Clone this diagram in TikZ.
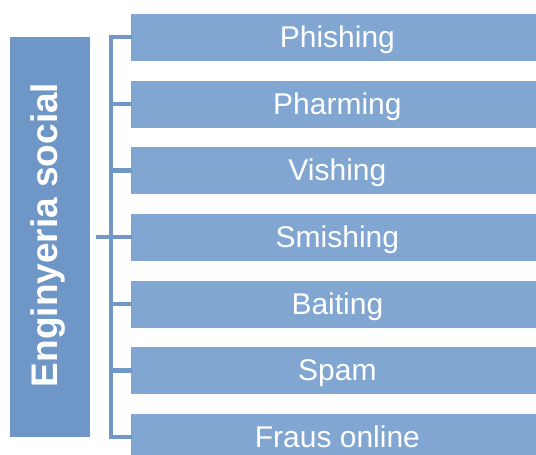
\documentclass[tikz,border=0pt]{standalone}
\usepackage{fontspec}
\setmainfont{Liberation Sans}
\definecolor{leftblue}{HTML}{6E97C7}
\definecolor{itemblue}{HTML}{80A6D1}
\definecolor{linkblue}{HTML}{7097C6}
\begin{document}
\begin{tikzpicture}[x=1pt,y=-1pt,
  itembox/.style={fill=itemblue,draw=white,line width=0.8pt,minimum width=414pt,minimum height=48pt,inner sep=0pt,text height=26pt,text depth=6pt,anchor=west,text=white,font=\fontsize{30}{30}\selectfont},
  topic/.style={fill=leftblue,minimum width=80pt,minimum height=400pt,inner sep=0pt},
  link/.style={draw=linkblue,line width=4.5pt}]
\useasboundingbox (0,0) rectangle (536,455);
\node[topic] (main) at (50,237) {};
\node[rotate=90,text=white,font=\fontsize{37}{37}\bfseries\selectfont] (title) at (48,235) {Enginyeria social};
\node[itembox] (i1) at (130,37) {Phishing};
\node[itembox] (i2) at (130,104) {Pharming};
\node[itembox] (i3) at (130,170.5) {Vishing};
\node[itembox] (i4) at (130,237) {Smishing};
\node[itembox] (i5) at (130,304) {Baiting};
\node[itembox] (i6) at (130,370.5) {Spam};
\node[itembox] (i7) at (130,437) {Fraus online};
\coordinate (bt) at (111,37);
\coordinate (bb) at (111,437);
\draw[link] (bt) -- (bb);
\foreach \i in {1,...,7} {
  \draw[link,line cap=rect] (111,0 |- i\i.west) -- (i\i.west);
}
\draw[link] (main.east -| 96,0) -- (main.east -| 111,0);
\end{tikzpicture}
\end{document}
